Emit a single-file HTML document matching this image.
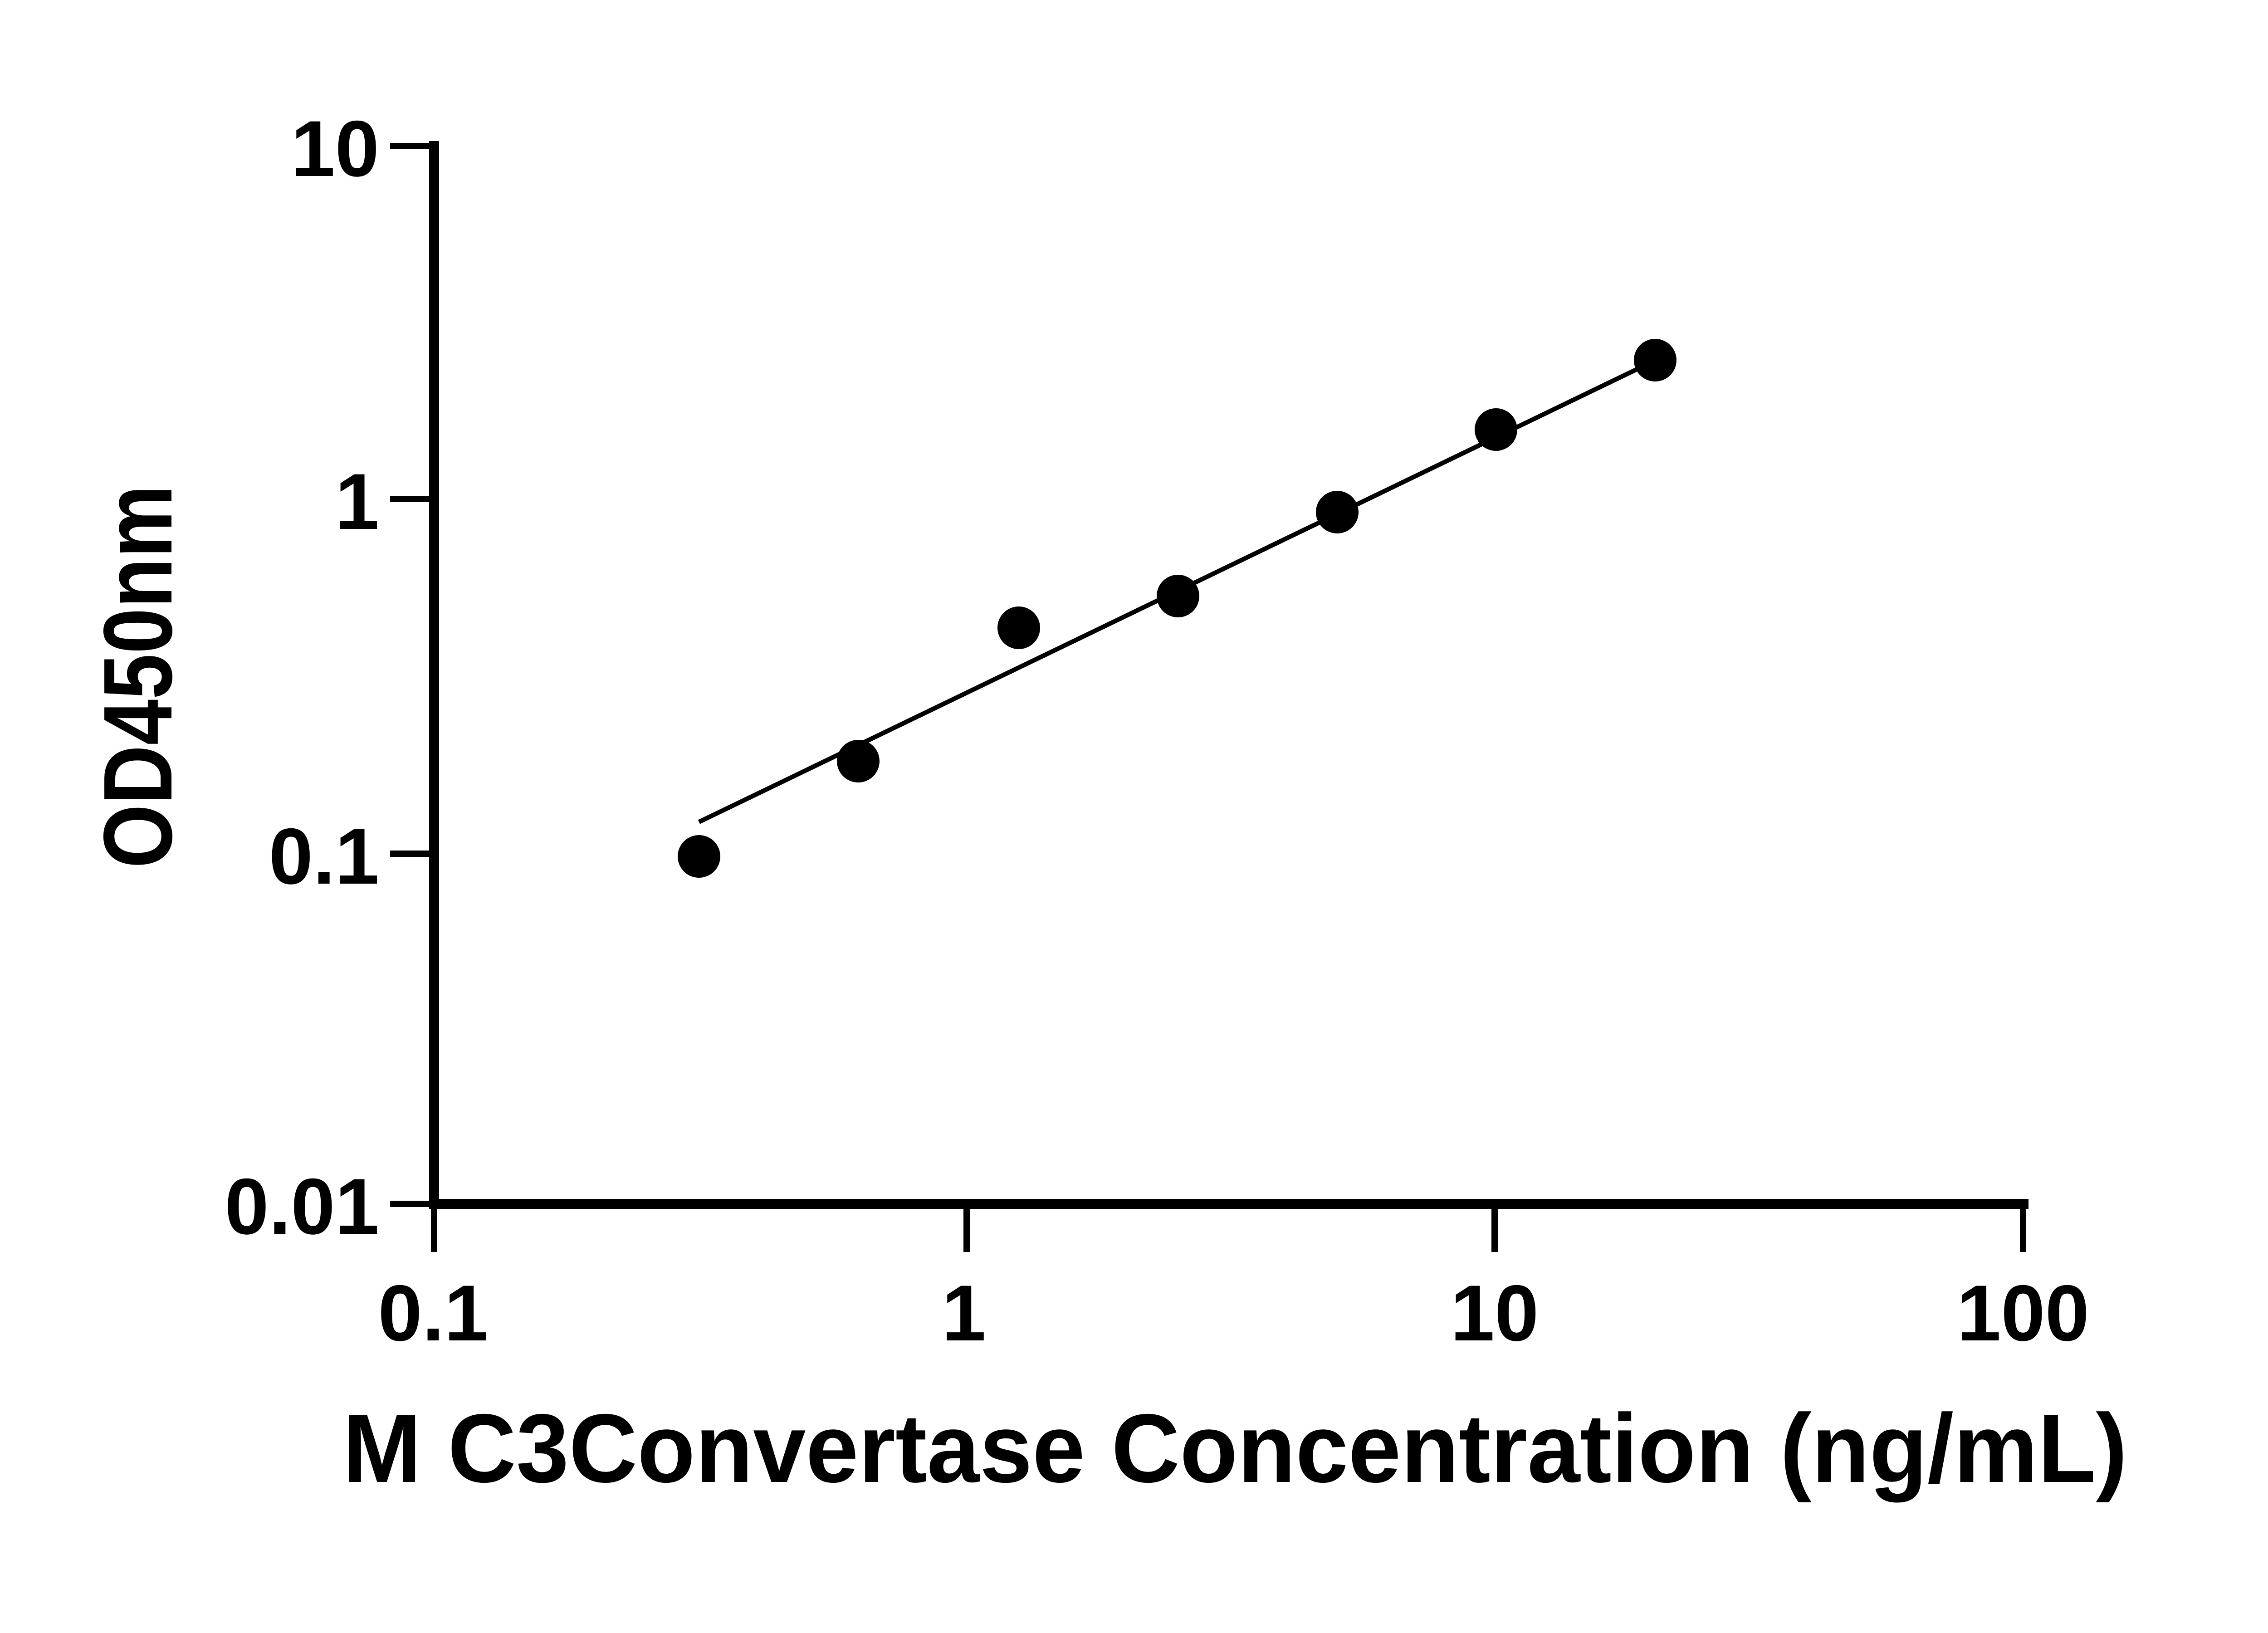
<!DOCTYPE html>
<html><head><meta charset="utf-8"><style>html,body{margin:0;padding:0;background:#fff}svg{display:block}</style></head>
<body>
<svg width="5142" height="3600" viewBox="0 0 5142 3600" xmlns="http://www.w3.org/2000/svg">
<rect width="5142" height="3600" fill="#fff"/>
<g stroke="#000" fill="none">
<line x1="957" y1="311" x2="957" y2="2665" stroke-width="22"/>
<line x1="946" y1="2654" x2="4472" y2="2654" stroke-width="22"/>
<g stroke-width="14">
<line x1="860" y1="322" x2="957" y2="322"/>
<line x1="860" y1="1100" x2="957" y2="1100"/>
<line x1="860" y1="1882" x2="957" y2="1882"/>
<line x1="860" y1="2654" x2="957" y2="2654"/>
<line x1="957" y1="2654" x2="957" y2="2760"/>
<line x1="2131" y1="2654" x2="2131" y2="2760"/>
<line x1="3295" y1="2654" x2="3295" y2="2760"/>
<line x1="4460" y1="2654" x2="4460" y2="2760"/>
</g>
<line x1="1541" y1="1812" x2="3617" y2="810" stroke-width="10"/>
</g>
<g fill="#000">
<circle cx="1541" cy="1888" r="47"/>
<circle cx="1892" cy="1678" r="47"/>
<circle cx="2246" cy="1384" r="47"/>
<circle cx="2597" cy="1314" r="47"/>
<circle cx="2948" cy="1129" r="47"/>
<circle cx="3298" cy="947" r="47"/>
<circle cx="3649" cy="794" r="47"/>
</g>
<g font-family="Liberation Sans, sans-serif" font-weight="bold" font-size="175" fill="#000">
<g text-anchor="end">
<text x="836" y="388">10</text>
<text x="836" y="1166">1</text>
<text x="836" y="1948">0.1</text>
<text x="836" y="2720">0.01</text>
</g>
<g text-anchor="middle">
<text x="955" y="2955">0.1</text>
<text x="2125" y="2955">1</text>
<text x="3295" y="2955">10</text>
<text x="4460" y="2955">100</text>
</g>
<text x="755" y="3267" font-size="215" textLength="3935" lengthAdjust="spacingAndGlyphs">M C3Convertase Concentration (ng/mL)</text>
<text transform="translate(378,1914) rotate(-90)" font-size="215" textLength="845" lengthAdjust="spacingAndGlyphs">OD450nm</text>
</g>
</svg>
</body></html>
